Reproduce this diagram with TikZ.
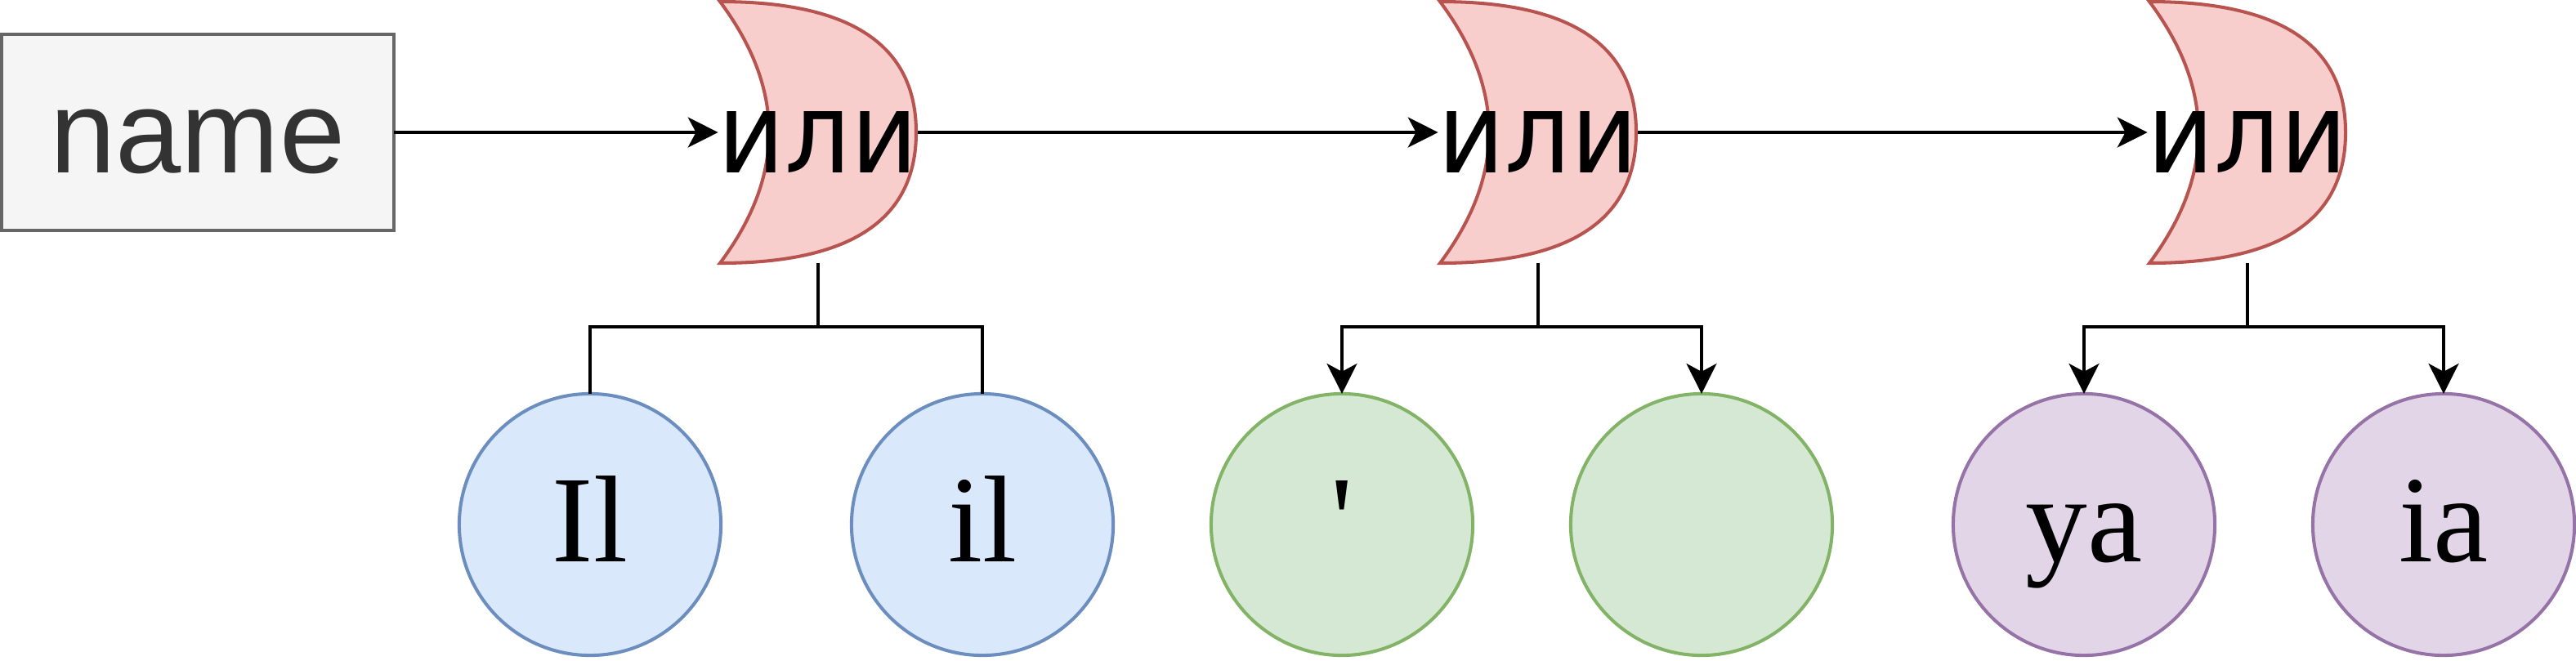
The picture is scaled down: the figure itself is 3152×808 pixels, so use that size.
\documentclass[tikz,border=0pt]{standalone}
\usepackage{fontspec}
\setmainfont{Liberation Serif}
\newfontfamily\circfont{Liberation Serif}
\newfontfamily\sansfont{Liberation Sans}
\newfontfamily\gatefont[FakeStretch=0.92]{DejaVu Sans}
\usetikzlibrary{arrows.meta}
\definecolor{gatefill}{HTML}{F8CECC}
\definecolor{gatedraw}{HTML}{B85450}
\definecolor{boxfill}{HTML}{F5F5F5}
\definecolor{boxdraw}{HTML}{666666}
\definecolor{boxtext}{HTML}{333333}
\definecolor{bluefill}{HTML}{DAE8FC}
\definecolor{bluedraw}{HTML}{6C8EBF}
\definecolor{greenfill}{HTML}{D5E8D4}
\definecolor{greendraw}{HTML}{82B366}
\definecolor{purplefill}{HTML}{E1D5E7}
\definecolor{purpledraw}{HTML}{9673A6}
\tikzset{
  gateshape/.style={fill=gatefill,draw=gatedraw,line width=1.15pt,line join=miter},
  gatebox/.style={inner sep=0pt,outer sep=0pt,minimum width=2.4cm,minimum height=3.2cm,text height=28.4pt,text depth=0pt,font=\gatefont\fontsize{39}{39}\selectfont,text=black},
  namebox/.style={draw=boxdraw,fill=boxfill,line width=1.15pt,outer sep=0pt,minimum width=4.8cm,minimum height=2.4cm,inner sep=0pt,text height=28.4pt,text depth=0pt,text=boxtext,font=\sansfont\fontsize{41}{41}\selectfont},
  circ/.style={circle,line width=1.15pt,outer sep=0pt,minimum size=3.2cm,inner sep=0pt,text height=26pt,text depth=0pt,font=\circfont\fontsize{43}{43}\selectfont,text=black},
  bluec/.style={circ,draw=bluedraw,fill=bluefill},
  greenc/.style={circ,draw=greendraw,fill=greenfill},
  purplec/.style={circ,draw=purpledraw,fill=purplefill},
  conn/.style={draw=black,line width=1.15pt},
  arr/.style={conn,-{Stealth[length=10.5pt,width=10.5pt,inset=2.8pt]}}
}
\newcommand{\orgate}[2]{%
  \begin{scope}[shift={(#2,162)}]
    \path[gateshape] (-120,-160) .. controls (40,-160) and (120,-107) .. (120,0)
      .. controls (120,107) and (40,160) .. (-120,160)
      .. controls (-40,53) and (-40,-53) .. cycle;
    \node[gatebox] (#1) at (0,0) {или};
  \end{scope}}
\begin{document}
\begin{tikzpicture}[x=0.01cm,y=-0.01cm]
\useasboundingbox (0,0) rectangle (3152,808);
\node[namebox] (name) at (242,162) {name};
\orgate{ga}{1001}
\orgate{gb}{1882}
\orgate{gc}{2750}
\node[bluec] (c1) at (722,642) {Il};
\node[bluec] (c2) at (1202,642) {il};
\node[greenc] (c3) at (1642,642) {'};
\node[greenc] (c4) at (2082,642) {};
\node[purplec] (c5) at (2550,642) {ya};
\node[purplec] (c6) at (2990,642) {ia};
\draw[arr] (name.east) -- (ga.west);
\draw[arr] (ga.east) -- (gb.west);
\draw[arr] (gb.east) -- (gc.west);
\draw[conn] (ga.south) -- ++(0,78) coordinate (ja);
\draw[conn] (c1.north) |- (ja) -| (c2.north);
\draw[conn] (gb.south) -- ++(0,78) coordinate (jb);
\draw[arr] (jb) -| (c3.north);
\draw[arr] (jb) -| (c4.north);
\draw[conn] (gc.south) -- ++(0,78) coordinate (jc);
\draw[arr] (jc) -| (c5.north);
\draw[arr] (jc) -| (c6.north);
\end{tikzpicture}
\end{document}
